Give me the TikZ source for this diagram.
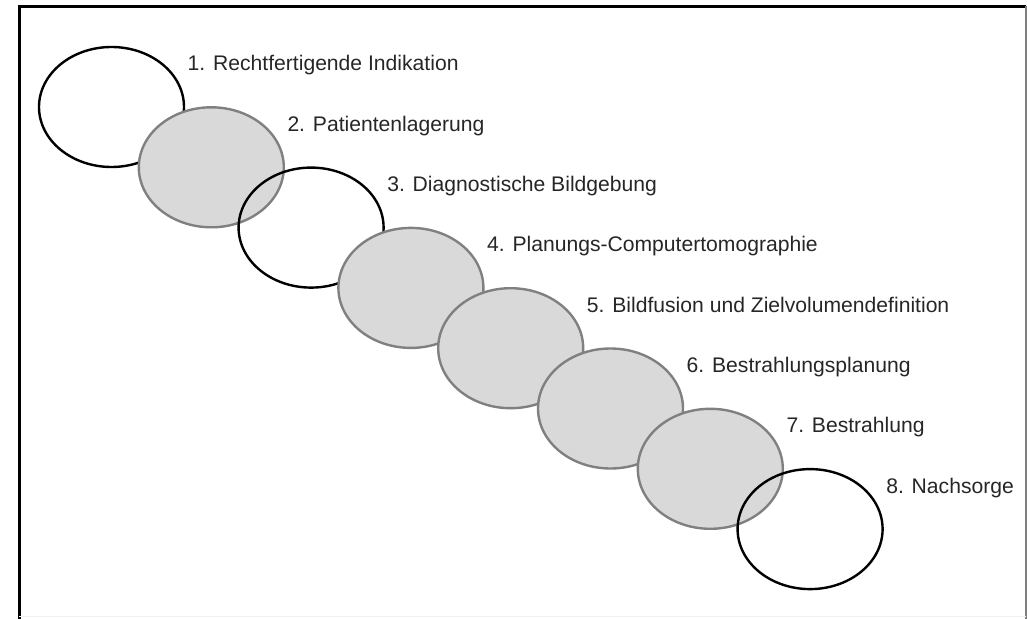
\documentclass[tikz,border=0pt]{standalone}
\usepackage{fontspec}
\setmainfont{Liberation Sans}
\usepackage{tikz}
\usetikzlibrary{calc,shapes,positioning}
\definecolor{fillgray}{HTML}{D9D9D9}
\definecolor{edgegray}{HTML}{808080}

\begin{document}
\begin{tikzpicture}[x=1bp, y=-1bp,
	open/.style={draw, ellipse, line width=2.4bp, minimum width=145bp, minimum height=120bp, inner sep=0pt},
	filled/.style={open, draw=edgegray, fill=fillgray},
	lbl/.style={anchor=base west, inner sep=0pt, text=black!85, font=\fontsize{21.2}{24}\selectfont}]
	\useasboundingbox (0,0) rectangle (1027,619);

	% frame
	\draw[line width=3bp] (19,619) -- (19,6.5) -- (1026,6.5);
	\draw[edgegray, line width=1.5bp] (1026,6.5) -- (1026,619);
	\draw[black!6, line width=1bp] (19,616.5) -- (1026,616.5);

	% steps
	\node (e1) at (111.5,107) [open] {};
	\node (e2) at (211.3,167.3) [filled] {};
	\node (e3) at (311.1,227.6) [open] {};
	\node (e4) at (410.9,287.9) [filled] {};
	\node (e5) at (510.7,348.2) [filled] {};
	\node (e6) at (610.5,408.5) [filled] {};
	\node (e7) at (710.3,468.8) [filled] {};
	\node (e8) at (810.1,529.1) [open] {};

	\node (l1) at ($(e1)+(76,-36)$) [lbl] {1. Rechtfertigende Indikation};
	\node (l2) at ($(e2)+(76,-36)$) [lbl] {2. Patientenlagerung};
	\node (l3) at ($(e3)+(76,-36)$) [lbl] {3. Diagnostische Bildgebung};
	\node (l4) at ($(e4)+(76,-36)$) [lbl] {4. Planungs-Computertomographie};
	\node (l5) at ($(e5)+(76,-36)$) [lbl] {5. Bildfusion und Zielvolumendefinition};
	\node (l6) at ($(e6)+(76,-36)$) [lbl] {6. Bestrahlungsplanung};
	\node (l7) at ($(e7)+(76,-36)$) [lbl] {7. Bestrahlung};
	\node (l8) at ($(e8)+(76,-36)$) [lbl] {8. Nachsorge};
\end{tikzpicture}
\end{document}
